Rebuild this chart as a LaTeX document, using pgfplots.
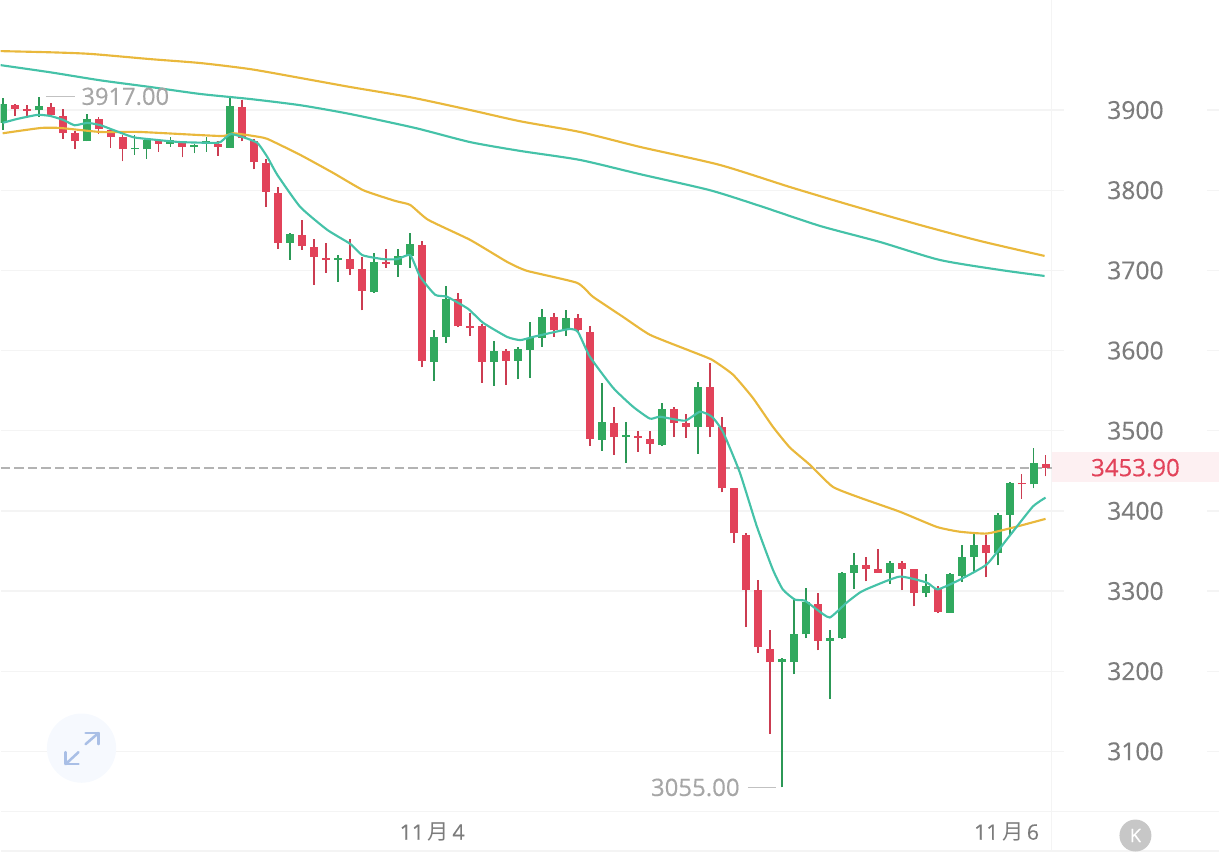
\documentclass[border=0pt]{standalone}
\usepackage{pgfplots}
\usepackage{pgfplotstable}
\usepackage{fontspec}
\pgfplotsset{compat=1.18}
\setmainfont[FakeBold=0.35]{Open Sans}
\newfontfamily\numf[FakeBold=0.35]{Open Sans}
\newfontfamily\cjk{Noto Sans CJK SC}
\definecolor{cR}{HTML}{E2435A}
\definecolor{cG}{HTML}{31A95F}
\definecolor{cT}{HTML}{45C2A8}
\definecolor{cY}{HTML}{E9B83C}
\definecolor{cGrid}{HTML}{F4F4F4}
\definecolor{cTxt}{HTML}{7C7C7C}
\definecolor{cLab}{HTML}{A6A6A6}
\definecolor{cIcon}{HTML}{A9BFE6}
\definecolor{cIconBg}{HTML}{F6F9FE}
\pgfplotstableread{
x hi top bot lo
1 3907.5 3906 3901 3892.5
2 3906 3901 3899 3891
4 3909 3904 3894 3891
5 3901 3892.5 3871 3864
6 3874 3871 3861 3851
8 3891 3889 3876 3870
9 3878 3875 3866 3853
10 3869 3866 3851 3836
13 3863 3861 3858 3848
15 3861 3860 3854 3841
18 3861 3858 3854 3843
20 3912 3904 3865 3861
21 3864 3861 3835 3826
22 3839 3834 3798 3779
23 3804 3797 3734 3727
25 3763 3744 3731 3726
26 3739 3729 3717 3682
27 3734 3716 3713 3697
29 3739 3714 3702 3694
30 3717 3702 3674 3650
32 3727 3711 3708 3703
35 3737 3732 3587 3579
38 3672 3664 3630 3629
39 3647 3631 3628 3618
40 3633 3630 3586 3560
42 3602 3600 3587 3557
46 3647 3642 3625 3617
48 3646 3641 3625 3622
49 3630 3623 3490 3481
51 3530 3510 3492 3470
53 3500 3494 3491 3474
54 3500 3490 3484 3471
56 3530 3527 3510 3492
57 3521 3509 3505 3491
59 3585 3554 3505 3492
60 3517 3505 3428 3423
61 3429 3428 3372 3360
62 3372 3370 3301 3255
63 3314 3301 3230 3223
64 3251 3228 3211 3122
68 3298 3284 3238 3226
72 3343 3333 3328 3312
73 3353 3327 3323 3323
75 3338 3335 3328 3301
76 3328 3328 3298 3281
78 3306 3303 3274 3272
82 3370 3358 3347 3317
85 3446 3435 3433 3415
87 3470 3459 3453.9 3443
}\redT
\pgfplotstableread{
x hi top bot lo
0 3915 3907 3884 3875
3 3916 3905 3900 3891
7 3895 3889 3861 3861
11 3869 3853 3851 3844
12 3864 3863 3851 3839
14 3866 3863 3858 3854
16 3858 3856 3854 3846
17 3866 3861 3859 3848
19 3917 3905 3853 3853
24 3747 3745 3734 3713
28 3719 3716 3713 3686
31 3722 3711 3673 3672
33 3727 3718 3707 3692
34 3747 3733 3718 3703
36 3625 3617 3586 3562
37 3681 3664 3617 3610
41 3612 3600 3586 3556
43 3605 3602 3587 3564
44 3635 3616 3601 3566
45 3652 3642 3616 3605
47 3650 3641 3626 3618
50 3560 3511 3489 3475
52 3511 3495 3492 3460
55 3534 3527 3482 3481
58 3561 3555 3505 3471
65 3217 3215 3212 3055
66 3289 3246 3212 3196
67 3304 3286 3246 3241
69 3252 3242 3238 3165
70 3324 3323 3241 3240
71 3347 3333 3323 3303
74 3338 3335 3323 3309
77 3321 3306 3298 3292
79 3322 3321 3273 3273
80 3358 3343 3319 3311
81 3372 3358 3343 3323
83 3397 3395 3347 3332
84 3436 3435 3395 3369
86 3478 3460 3433 3428
}\greenT
\begin{document}
\begin{tikzpicture}
\begin{axis}[
  scale only axis, width=915pt, height=639.75pt,
  xmin=-0.1667, xmax=101.5, ymin=2974.2, ymax=4037.1,
  axis line style={draw=none},
  clip=true,
  axis on top=false,
  major tick length=0pt,
  ymajorgrids, grid style={cGrid, line width=1pt},
  ytick={3100,3200,3300,3400,3500,3600,3700,3800,3900},
  yticklabel pos=right,
  /pgf/number format/assume math mode=true,
  /pgf/number format/set thousands separator={},
  yticklabel style={anchor=center, xshift=-63pt, fill=white, inner sep=0pt,
     minimum width=108pt, minimum height=28pt, text=cTxt, font=\fontsize{18.5}{20}\selectfont},
  xtick={35.83,83.75},
  xticklabels={{11\,{\cjk 月}\,4},{11\,{\cjk 月}\,6}},
  xticklabel style={anchor=center, yshift=15pt, text=cTxt, font=\fontsize{16}{18}\selectfont},
]
% decoration
\fill[cR!8] (axis cs:87.5,3474) rectangle (axis cs:101.5,3436);
\draw[cGrid, line width=1pt] (axis cs:87.5,2974.2) -- (axis cs:87.5,4037.1);
\draw[cGrid, line width=1pt] (axis cs:-0.1667,3025) -- (axis cs:101.5,3025);
\draw[cGrid, line width=1.5pt] (axis cs:-0.1667,2976) -- (axis cs:101.5,2976);
\draw[cLab!85, line width=1.5pt, dash pattern=on 7pt off 3.2pt] (axis cs:-0.1667,3453.9) -- (axis cs:87.5,3453.9);

% icon
\fill[cIconBg] (axis cs:6.58,3104) circle (26pt);
\begin{scope}[draw=cIcon, line width=1.9pt, line cap=round, line join=round]
\draw (axis cs:6.92,3109) -- (axis cs:8,3123);
\draw (axis cs:6.92,3123) -- (axis cs:8,3123) -- (axis cs:8,3109);
\draw (axis cs:6.33,3099) -- (axis cs:5.25,3084);
\draw (axis cs:5.25,3099) -- (axis cs:5.25,3084) -- (axis cs:6.33,3084);
\end{scope}

% wicks
\addplot[draw=none, no markers, forget plot, error bars/.cd, y dir=plus, y explicit, error mark=none,
  error bar style={draw=cR!90!black, line width=1.4pt}]
  table[x=x, y=lo, y error plus expr=\thisrow{hi}-\thisrow{lo}] {\redT};
\addplot[draw=none, no markers, forget plot, error bars/.cd, y dir=plus, y explicit, error mark=none,
  error bar style={draw=cG!90!black, line width=1.4pt}]
  table[x=x, y=lo, y error plus expr=\thisrow{hi}-\thisrow{lo}] {\greenT};
% bodies
\addplot[draw=none, no markers, forget plot, error bars/.cd, y dir=plus, y explicit, error mark=none,
  error bar style={draw=cR, line width=6pt}]
  table[x=x, y=bot, y error plus expr=\thisrow{top}-\thisrow{bot}] {\redT};
\addplot[draw=none, no markers, forget plot, error bars/.cd, y dir=plus, y explicit, error mark=none,
  error bar style={draw=cG, line width=6pt}]
  table[x=x, y=bot, y error plus expr=\thisrow{top}-\thisrow{bot}] {\greenT};

% long averages
\addplot[cY, line width=1.6pt, smooth, tension=.4] coordinates {
(-0.17,3973.5)(4,3972)(7.33,3970)(12.33,3963.5)(16.5,3958.6)(20.67,3951)(24.83,3940)(29,3928.7)(34,3916)(39,3900)(43.17,3886)(48.17,3872.6)(53.17,3854)(59.83,3831.5)(65.67,3804)(70.67,3781.6)(76.5,3756.7)(81.5,3736.8)(86.92,3718)};
\addplot[cT, line width=1.6pt, smooth, tension=.4] coordinates {
(-0.17,3956)(4,3947)(8.17,3937)(12.33,3928.7)(16.5,3920)(20.67,3913.7)(24.83,3906)(29,3895)(34.42,3877.6)(39,3860)(43.17,3849)(48.17,3837.7)(53.17,3820)(59,3800)(63.17,3780.4)(68.17,3755.5)(73.17,3735.5)(78.17,3713)(83.17,3700.6)(86.92,3693)};
% medium average
\addplot[cY, line width=1.6pt, smooth, tension=.3] coordinates {
(0,3871)(3.17,3877.6)(4.83,3877.6)(8.17,3872.6)(11.5,3872.6)(18.17,3867.6)(19.25,3871)(20.92,3867.6)(22.08,3864)(24.83,3844)(27.58,3821.5)(30.08,3800)(32.75,3786.6)(34,3781.6)(35.5,3763)(39,3738)(42.08,3710.6)(43.75,3699.4)(47.92,3684.4)(49.25,3667)(51.75,3642)(54,3619.6)(57.33,3599.7)(59.17,3588.5)(60.92,3570)(62.58,3541)(64.25,3505)(65.67,3479)(67.33,3457.6)(69.25,3430)(71.5,3416.5)(74.83,3399)(77.92,3380)(79.83,3374)(82.08,3371.7)(84.25,3379)(87,3390)};
% short average
\addplot[cT, line width=1.6pt, smooth, tension=.3] coordinates {
(0,3884)(1.25,3889)(2.92,3894)(4,3892.5)(5.08,3887.5)(6,3881)(7.08,3884)(8.17,3881)(9.25,3875)(10.92,3866)(12.92,3862.6)(14.83,3860)(17.58,3859)(18.17,3860)(19,3870)(20.08,3866)(21.25,3859)(22.08,3841.4)(22.92,3819)(24.83,3779)(27.08,3750.5)(29,3733)(30,3719)(31.75,3714)(32.92,3714)(34,3719)(34.83,3692)(36.08,3669.5)(37.08,3667)(38.83,3652)(40.08,3634.6)(42.08,3617)(43.17,3613)(44.25,3617)(45.42,3621)(47.33,3627)(48,3623)(49,3592)(50.92,3553.6)(52.58,3530)(54,3515)(54.83,3517.4)(56.92,3512.5)(58.17,3523.7)(59.17,3517.4)(60.08,3498.8)(61.5,3447.7)(62.92,3380.4)(64.25,3326.8)(65.08,3302)(66.08,3289.4)(66.92,3288)(67.92,3277)(69,3267)(70.42,3285.7)(71.5,3298)(72.33,3304)(74.83,3318)(77.08,3310.6)(78,3302)(79.83,3314)(82.08,3333)(83.75,3364)(85.92,3405)(87,3416.5)};

% labels
\draw[cLab!70, line width=0.9pt] (axis cs:3.6,3917) -- (axis cs:6,3917);
\node[anchor=west, inner sep=0pt, text=cLab, font=\numf\fontsize{17.8}{20}\selectfont] at (axis cs:6.55,3917) {3917.00};
\draw[cLab!70, line width=0.9pt] (axis cs:62.17,3055) -- (axis cs:64.5,3055);
\node[anchor=east, inner sep=0pt, text=cLab, font=\numf\fontsize{18}{20}\selectfont] at (axis cs:61.5,3055) {3055.00};
\node[anchor=center, inner sep=0pt, text=cR, font=\numf\fontsize{18}{20}\selectfont] at (axis cs:94.5,3453.9) {3453.90};
% badge
\fill[black!22] (axis cs:94.5,2995) circle (12pt);
\node[anchor=center, inner sep=0pt, text=white, font=\fontsize{14}{15}\selectfont] at (axis cs:94.5,2995) {K};
\end{axis}
\end{tikzpicture}
\end{document}
